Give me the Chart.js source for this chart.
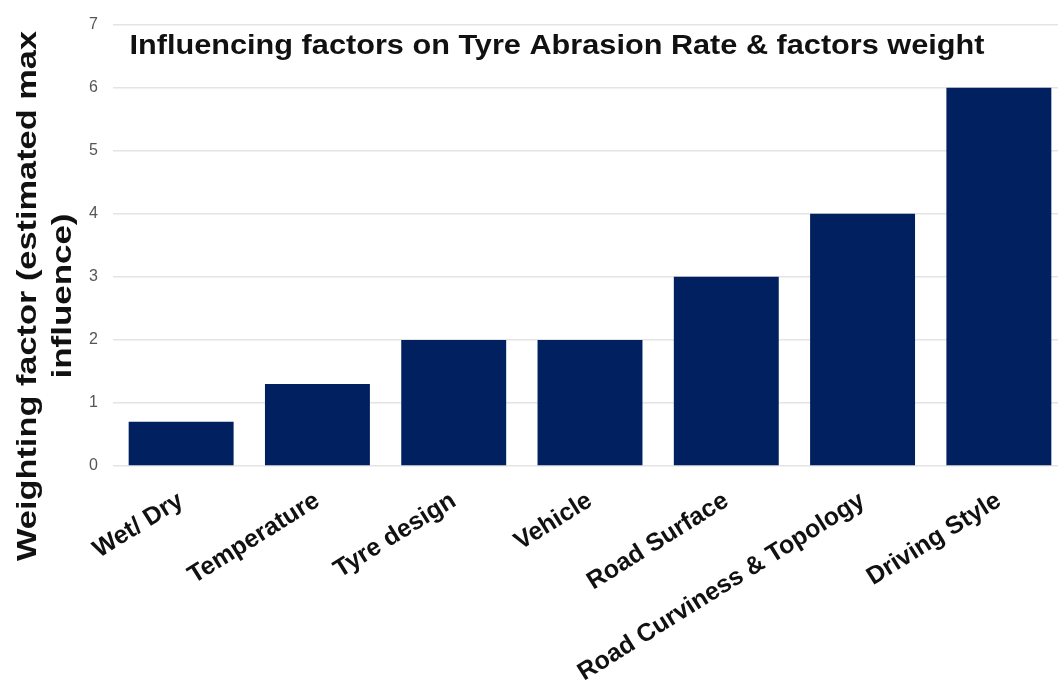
<!DOCTYPE html>
<html lang="en">
<head>
  <meta charset="UTF-8" />
  <title>Influencing factors on Tyre Abrasion Rate</title>
  <script src="https://cdn.jsdelivr.net/npm/chart.js"></script>
  <style>
    html, body {
      margin: 0;
      padding: 0;
      background: #fff;
      overflow: hidden;
    }
    canvas {
      display: block;
    }
  </style>
</head>
<body>

  <canvas id="abrasionChart" width="1067" height="693"></canvas>

  <script>
    const factors = ['Wet/ Dry', 'Temperature', 'Tyre design', 'Vehicle', 'Road Surface', 'Road Curviness & Topology', 'Driving Style'];
    const weights = [0.7, 1.3, 2, 2, 3, 4, 6];
    const yTicks = [0, 1, 2, 3, 4, 5, 6, 7];
    const chartTitle = 'Influencing factors on Tyre Abrasion Rate & factors weight';
    const yTitle = ['Weighting factor (estimated max', 'influence)'];

    const fontFamily = '"Liberation Sans", Arial, sans-serif';

    // title sits inside the plot, and the y title is off-centre, so draw both by hand
    const extraText = {
      id: 'extraText',
      afterDraw(chart) {
        const ctx = chart.ctx;
        ctx.save();
        ctx.fillStyle = '#111';
        ctx.textAlign = 'center';
        ctx.textBaseline = 'middle';

        ctx.font = 'bold 27px ' + fontFamily;
        let w = ctx.measureText(chartTitle).width;
        ctx.save();
        ctx.translate(557, 47);
        ctx.scale(855 / w, 1);
        ctx.fillText(chartTitle, 0, 0);
        ctx.restore();

        ctx.font = 'bold 28px ' + fontFamily;
        const lineX = [28, 63];
        const lineLen = [530, 165];
        yTitle.forEach((line, i) => {
          ctx.save();
          ctx.translate(lineX[i], 296);
          ctx.rotate(-Math.PI / 2);
          const lw = ctx.measureText(line).width;
          ctx.scale(lineLen[i] / lw, 1);
          ctx.fillText(line, 0, 0);
          ctx.restore();
        });
        ctx.restore();
      }
    };

    const ctx = document.getElementById('abrasionChart').getContext('2d');
    new Chart(ctx, {
      type: 'bar',
      data: {
        labels: factors,
        datasets: [{
          data: weights,
          backgroundColor: '#00205f',
          barPercentage: 0.77,
          categoryPercentage: 1
        }]
      },
      options: {
        responsive: false,
        animation: false,
        layout: { padding: { top: 22, left: 0, right: 0, bottom: 0 } },
        plugins: {
          legend: { display: false },
          tooltip: { enabled: false }
        },
        scales: {
          x: {
            grid: { display: false, drawTicks: false },
            border: { display: false },
            ticks: {
              color: '#111',
              font: { family: fontFamily, size: 25, weight: 'bold' },
              maxRotation: 32,
              minRotation: 32,
              padding: 20,
              autoSkip: false
            },
            afterFit(scale) { scale.height = 227; }
          },
          y: {
            min: 0,
            max: 7,
            afterBuildTicks(scale) {
              scale.ticks = yTicks.map(v => ({ value: v }));
            },
            grid: { color: '#e4e4e4', lineWidth: 1.5, drawTicks: false },
            border: { display: false },
            ticks: {
              color: '#555',
              font: { family: fontFamily, size: 16 },
              padding: 15
            },
            afterFit(scale) { scale.width = 113; }
          }
        }
      },
      plugins: [extraText]
    });
  </script>

</body>
</html>
